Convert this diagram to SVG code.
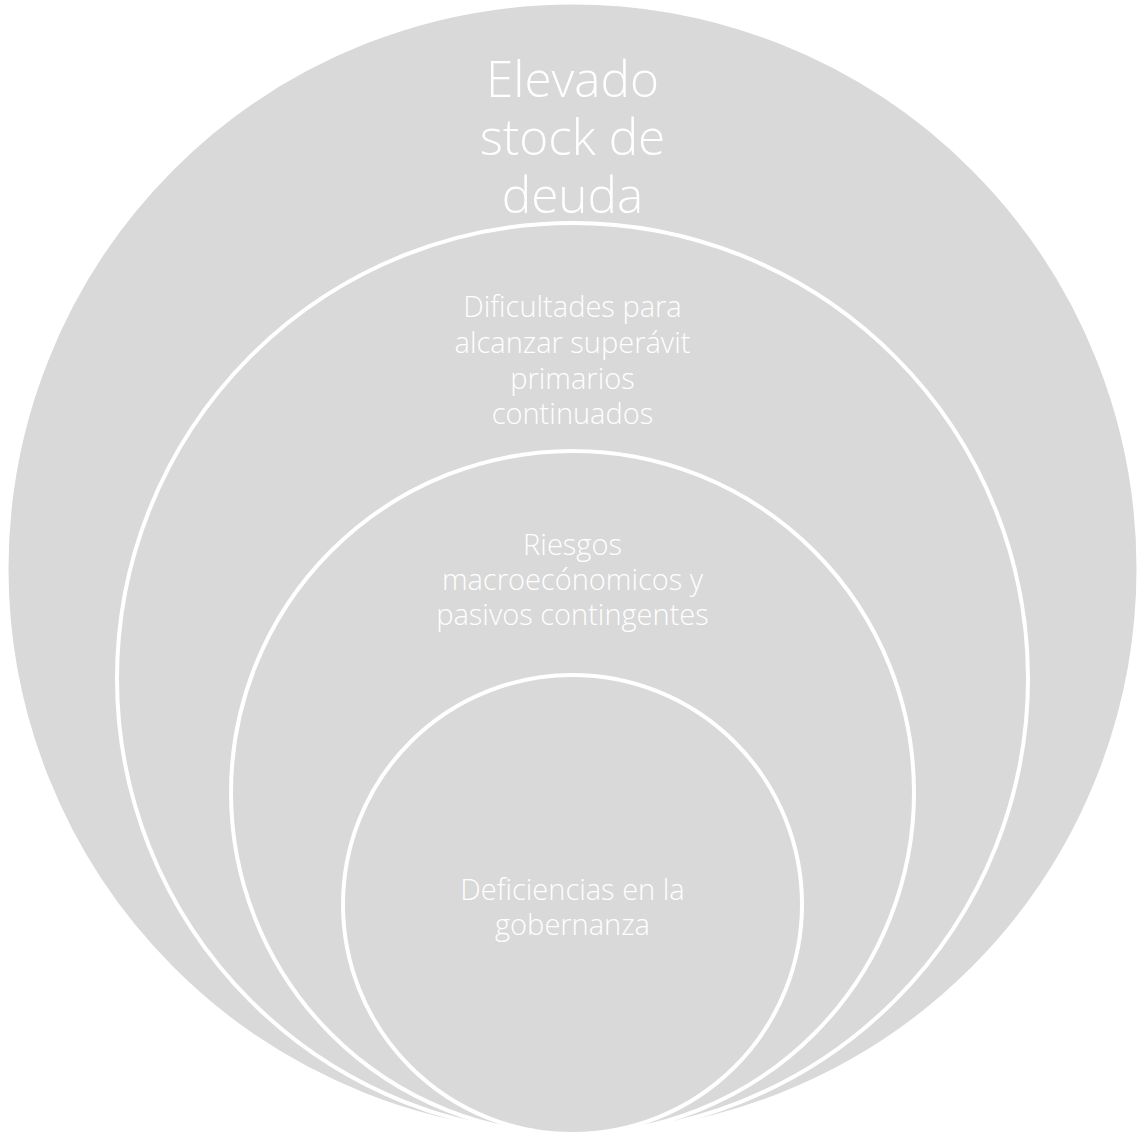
<svg xmlns="http://www.w3.org/2000/svg" width="1142" height="1136" viewBox="0 0 1142 1136">
<style>
.c{fill:#d9d9d9;stroke:#ffffff;stroke-width:4}
.t{fill:#ffffff;font-family:"Open Sans","Liberation Sans",sans-serif;font-weight:300;text-anchor:middle}
.big{font-size:49.5px}
.med{font-size:29px}
</style>
<rect width="1142" height="1136" fill="#ffffff"/>
<g id="node-outer">
<circle class="c" cx="572.5" cy="568.5" r="566"/>
<text class="t big" x="572.5" y="97">Elevado</text>
<text class="t big" x="572.5" y="155">stock de</text>
<text class="t big" x="572.5" y="213">deuda</text>
</g>
<g id="node-second">
<circle class="c" cx="572.5" cy="678.5" r="455.5"/>
<text class="t med" x="572.5" y="317">Dificultades para</text>
<text class="t med" x="572.5" y="353">alcanzar superávit</text>
<text class="t med" x="572.5" y="389">primarios</text>
<text class="t med" x="572.5" y="424">continuados</text>
</g>
<g id="node-third">
<circle class="c" cx="572.5" cy="792.5" r="341.5"/>
<text class="t med" x="572.5" y="555">Riesgos</text>
<text class="t med" x="572.5" y="590">macroecónomicos y</text>
<text class="t med" x="572.5" y="625">pasivos contingentes</text>
</g>
<g id="node-inner">
<circle class="c" cx="572.5" cy="904.5" r="229.5"/>
<text class="t med" x="572.5" y="900">Deficiencias en la</text>
<text class="t med" x="572.5" y="935">gobernanza</text>
</g>
<g id="connectors"></g>
</svg>
